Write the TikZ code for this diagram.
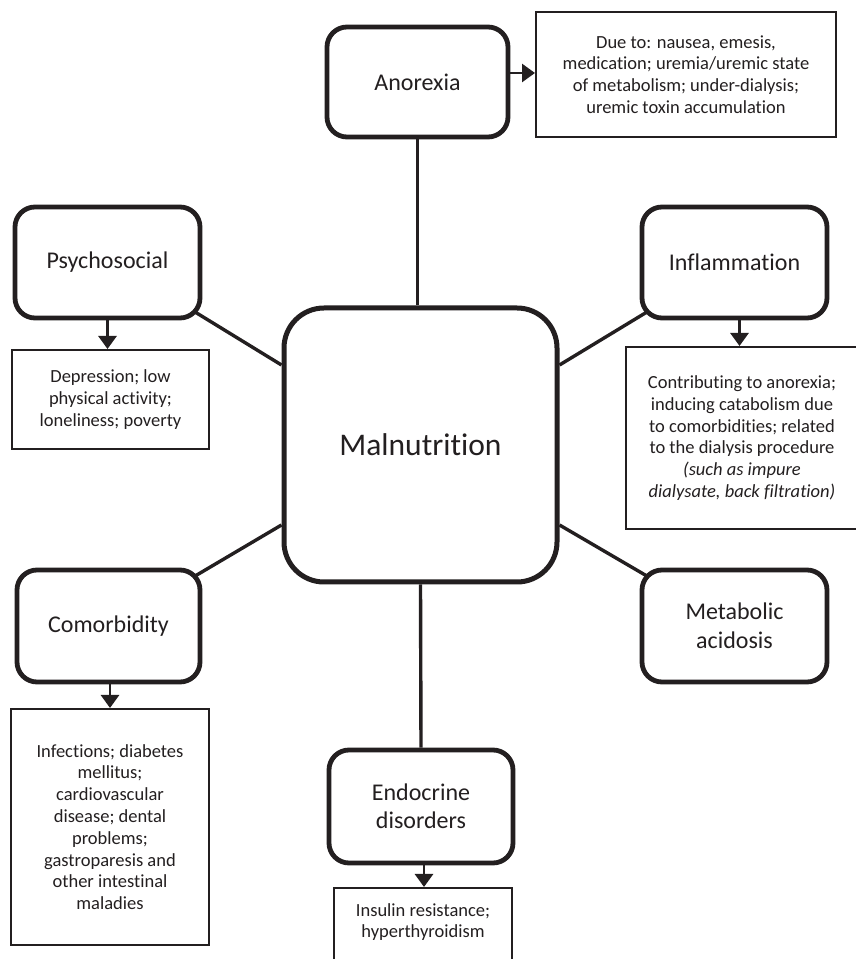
\documentclass[tikz,border=0pt]{standalone}
\usepackage{fontspec}
\setmainfont{Carlito}[Ligatures={NoCommon,NoContextual,NoRare}]
\usetikzlibrary{arrows.meta,backgrounds,calc}

\definecolor{ink}{HTML}{231F20}

\begin{document}
\begin{tikzpicture}[x=1pt,y=1pt,
  hub/.style={draw=ink, line width=5pt, rounded corners=40pt, fill=white,
    minimum width=273pt, minimum height=274pt, text=ink,
    font=\fontsize{31.5}{36}\selectfont},
  factor/.style={draw=ink, line width=4.8pt, rounded corners=20pt, fill=white,
    align=center, text=ink, inner sep=0pt,
    font=\fontsize{24}{28.5}\selectfont},
  detail/.style={draw=ink, line width=2pt, fill=white, align=center,
    text=ink, inner sep=0pt, font=\fontsize{18.5}{21.8}\selectfont},
  detailtext/.style={align=center, text=ink, inner sep=0pt,
    font=\fontsize{18.5}{21.8}\selectfont},
  link/.style={draw=ink, line width=3.4pt},
  feed/.style={draw=ink, line width=2.8pt, -{Triangle[length=13pt,width=18pt]}},
]
\useasboundingbox (0,0) rectangle (855,959);

% central problem
\node[hub] (mal) at (420.5,514) {Malnutrition};

% contributing factors
\node[factor, minimum width=181pt, minimum height=110pt] (ano) at (417.5,877) {Anorexia};
\node[factor, minimum width=185pt, minimum height=111pt] (psy) at (107.5,696.5) {Psychosocial};
\node[factor, minimum width=185pt, minimum height=111pt] (inf) at (734.5,696.5) {Inflammation};
\node[factor, minimum width=183pt, minimum height=112pt] (com) at (108.5,333) {Comorbidity};
\node[factor, minimum width=185pt, minimum height=112pt] (met) at (734.5,333) {Metabolic\\acidosis};
\node[factor, minimum width=184pt, minimum height=113pt] (endo) at (421,152.5) {Endocrine\\disorders};

% explanatory boxes
\node[detail, minimum width=300pt, minimum height=125pt] (anodet) at (686,884.5)
  {Due to: nausea, emesis,\\medication; uremia/uremic state\\of metabolism; under-dialysis;\\uremic toxin accumulation};
\node[detail, minimum width=197pt, minimum height=99pt] (psydet) at (110.5,559.5)
  {Depression; low\\physical activity;\\loneliness; poverty};
\node[detail, minimum width=232pt, minimum height=182pt] (infdet) at (742,521)
  {Contributing to anorexia;\\inducing catabolism due\\to comorbidities; related\\to the dialysis procedure\\
   {\itshape (such as impure}\\{\itshape dialysate, back filtration)}};
\node[detail, minimum width=198pt, minimum height=236pt] (comdet) at (110,132)
  {Infections; diabetes\\mellitus;\\cardiovascular\\disease; dental\\problems;\\gastroparesis and\\other intestinal\\maladies};
\node[detail, minimum width=178pt, minimum height=87pt] (endodet) at (423,27.5) {};
\node[detailtext] (endotext) at (423,37) {Insulin resistance;\\hyperthyroidism};

% spokes from the factors to the central box (start inside the rounded corners)
\begin{scope}[on background layer]
  \draw[link] (ano.south) -- (ano.south |- mal.north);
  \draw[link] (mal.south) -- (endo.north);
  \draw[link] ([shift={(-10pt,10pt)}]psy.south east) -- ($(mal.west)+(0,80)$);
  \draw[link] ([shift={(10pt,10pt)}]inf.south west) -- ($(mal.east)+(0,80)$);
  \draw[link] ([shift={(-10pt,-10pt)}]com.north east) -- ($(mal.west)+(0,-80)$);
  \draw[link] ([shift={(10pt,-10pt)}]met.north west) -- ($(mal.east)+(0,-80)$);
\end{scope}

% arrows to the explanatory boxes
\draw[feed] ([yshift=9pt]ano.east) -- ([yshift=9pt]ano.east -| anodet.west);
\draw[feed] (psy.south) -- (psy.south |- psydet.north);
\draw[feed] ([xshift=5pt]inf.south) -- ([xshift=5pt]inf.south |- infdet.north);
\draw[feed] ([xshift=1.5pt]com.south) -- ([xshift=1.5pt]com.south |- comdet.north);
\draw[feed] ([xshift=3pt]endo.south) -- ([xshift=3pt]endo.south |- endodet.north);
\end{tikzpicture}
\end{document}
